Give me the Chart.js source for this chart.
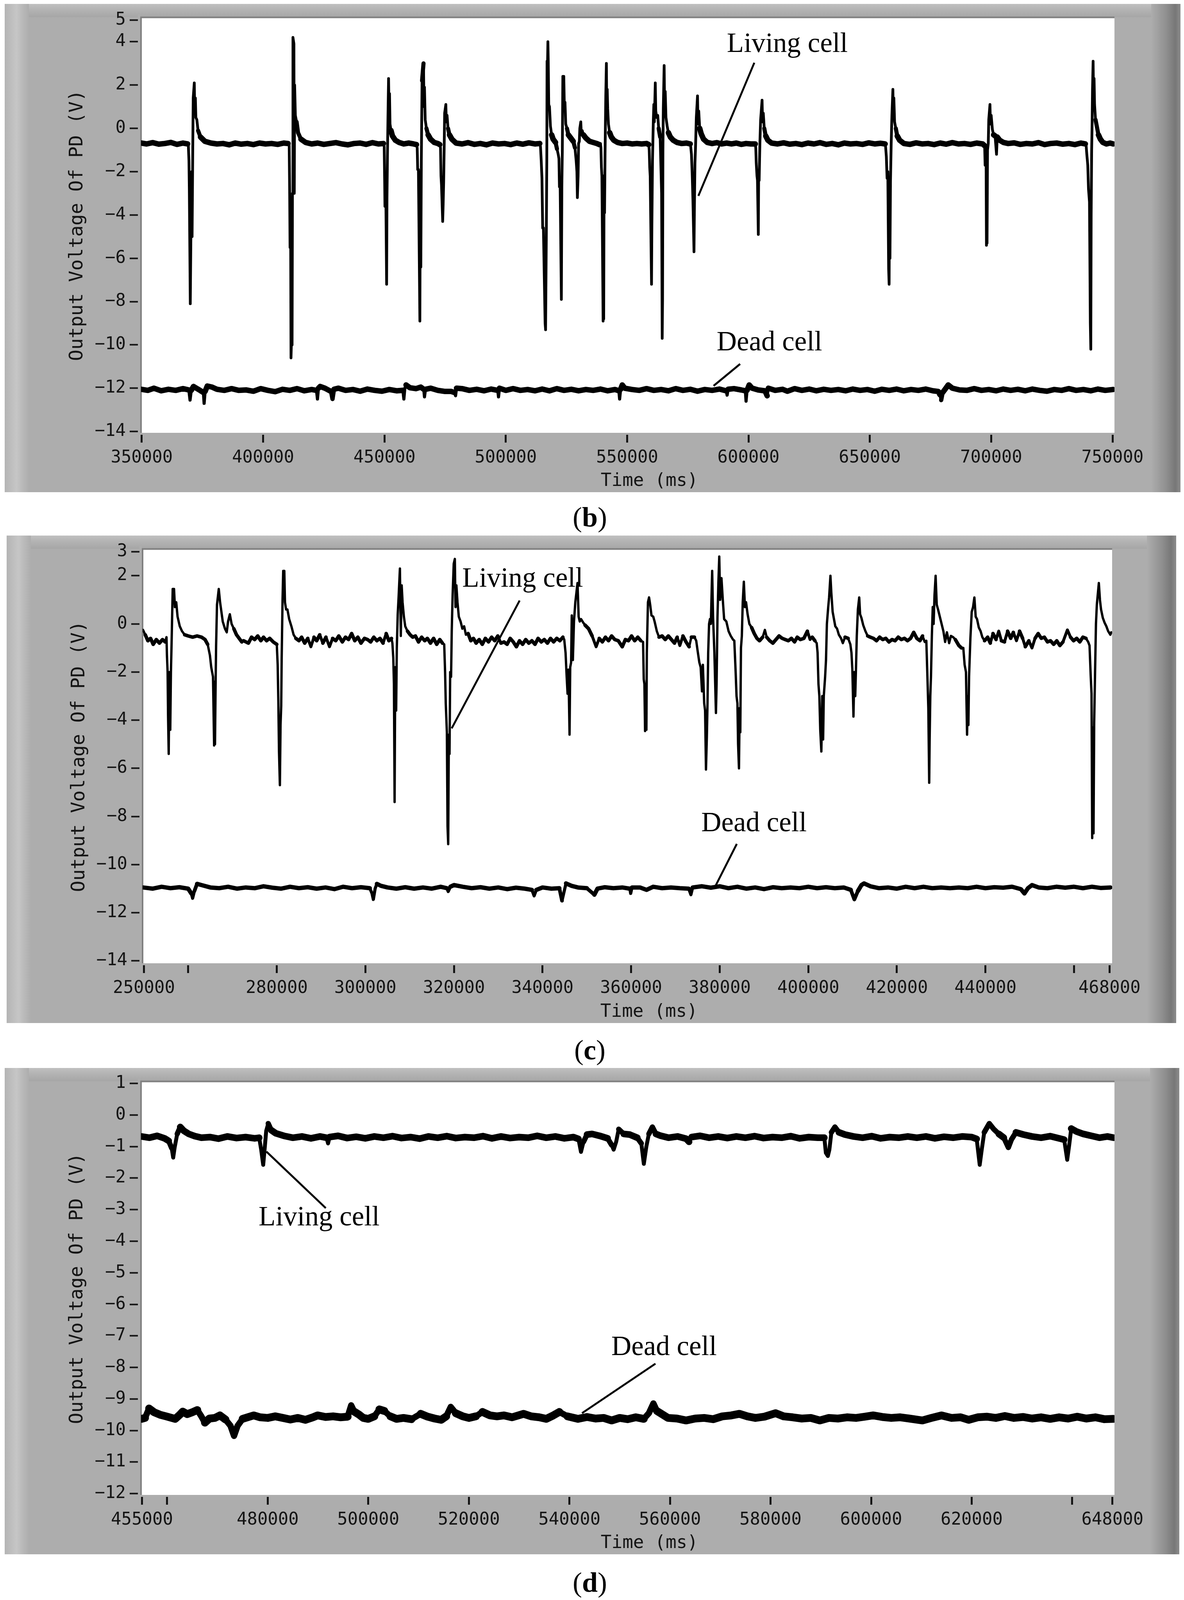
<!DOCTYPE html>
<html>
<head>
<meta charset="utf-8">
<title>Output voltage of PD, living and dead cell</title>
<script src="https://cdn.jsdelivr.net/npm/chart.js@4/dist/chart.umd.min.js"></script>
<style>
    html, body { margin: 0; padding: 0; background: #fff; }
    body { position: relative; width: 3031px; }
    canvas {
        position: absolute;
        background-color: #adadad;
        background-repeat: no-repeat;
        background-image:
            linear-gradient(to right, #b4b4b4 0, #c6c6c6 30px, #bcbcbc 42px, #adadad 62px),
            linear-gradient(to right, #adadad 0, #8e8e8e 40px, #777 62px, #8c8c8c 75px),
            linear-gradient(to bottom, #c0c0c0 0, #b4b4b4 14px, #a6a6a6 34px);
        background-size: 62px 100%, 75px 100%, 100% 34px;
        background-position: left top, right top, left top;
    }
    .caption {
        position: absolute;
        left: 1510px;
        transform: translateX(-50%);
        font: 72px/80px "Liberation Serif", serif;
        color: #000;
    }
</style>
</head>
<body>
<canvas id="panelB"></canvas>
<div class="caption" id="captionB">(<b>b</b>)</div>
<canvas id="panelC"></canvas>
<div class="caption" id="captionC">(<b>c</b>)</div>
<canvas id="panelD"></canvas>
<div class="caption" id="captionD">(<b>d</b>)</div>
<script>
// Values: [time in seconds, output voltage in V]
const livingB = [[349.8,-.68],[352,-.72],[354.5,-.66],[357,-.73],[359.5,-.7],[362,-.65],[364.5,-.74],[367,-.68],[368.9,-.72],
[369.2,-.8],[369.45,-1.5],[369.6,-2.8],[370,-8.1],[370.25,-5],[370.6,-2],[370.75,-5],[371,-1.3],[371.2,1.4],[371.65,2.1],[371.85,.8],[372.1,1.4],[372.3,.5],[372.7,.4],[373.2,-.1],[374.2,-.4],[376,-.6],[378.5,-.68],[381,-.72],
[383.5,-.7],[386,-.76],[388.5,-.68],[391,-.73],[393.5,-.7],[396,-.75],[398.5,-.68],[401,-.72],[403.5,-.7],[406,-.74],[408.5,-.68],[410.3,-.7],
[410.75,-.8],[410.95,-3],[411.1,-5.5],[411.3,-3.2],[411.5,-10.6],[411.65,-10],[411.8,-3.2],[411.95,-10],[412.1,-3],[412.2,-3],[412.3,4.2],[412.7,3.9],[412.85,-3],[413,2],[413.3,.6],[413.8,.3],[414.4,-.2],[415.6,-.5],[417.5,-.65],[420,-.72],
[422.5,-.68],[425,-.74],[427.5,-.7],[430,-.66],[432.5,-.72],[435,-.76],[437.5,-.7],[440,-.68],[442.5,-.74],[445,-.66],[447.5,-.72],[449.6,-.7],
[449.9,-.85],[450.1,-2.5],[450.2,-3.6],[450.5,-2.2],[450.9,-7.2],[451.05,-3.2],[451.25,-1.2],[451.45,.5],[451.7,2.3],[451.9,.8],[452.1,1.6],[452.3,.2],[452.7,-.1],[453.3,-.35],[454.5,-.55],[456,-.65],[458,-.72],[460,-.68],[462,-.72],[463.2,-.75],
[463.5,-.9],[463.7,-1.9],[464,-1.9],[464.6,-8.9],[464.8,-2],[465,-6.4],[465.2,-1.5],[465.5,2.2],[466.1,3],[466.3,1],[466.5,1.9],[466.8,.4],[467.3,0],[468,-.3],[469,-.5],[470.5,-.65],[472,-.7],[472.8,-.75],
[473.1,-.9],[473.3,-2.2],[473.5,-2.6],[474,-4.3],[474.2,-3.5],[474.4,-2.5],[474.6,-1],[474.8,.7],[475.3,1.1],[475.5,.3],[475.8,.6],[476.2,0],[476.8,-.3],[477.8,-.5],[479.5,-.68],
[482,-.72],[484.5,-.66],[487,-.74],[489.5,-.7],[492,-.76],[494.5,-.68],[497,-.72],[499.5,-.7],[502,-.75],[504.5,-.68],[507,-.73],[509.5,-.67],[512,-.72],[514,-.7],
[514.3,-.85],[514.6,-1.5],[514.9,-2.3],[515.2,-4.6],[515.5,-4.6],[516.2,-9],[516.4,-9.3],[516.7,-5],[516.9,-1.5],[517,3.1],[517.2,3],[517.35,4],[517.5,3.1],[517.7,1.1],[518,1],[518.4,.1],[518.9,-.3],[519.5,-.5],[520.5,-.65],[521.1,-.95],[521.6,-1.2],
[521.9,-1.4],[522.1,-2.7],[522.4,-2.7],[522.9,-7.9],[523.1,-2.7],[523.3,-1],[523.5,2.4],[523.9,2.4],[524.1,1.2],[524.4,1.2],[524.7,.2],[525.2,0],[525.8,-.3],[526.8,-.45],[527.8,-.6],[528.5,-.9],[529,-1.5],
[529.3,-2],[529.5,-3.2],[529.8,-2.2],[530,-.7],[530.3,-.6],[530.5,0],[530.9,.3],[531.1,-.2],[531.5,-.1],[532,-.3],[533,-.45],[534.5,-.6],[536,-.65],[537.5,-.7],[538.5,-.75],[539,-.7],
[539.2,-.9],[539.4,-1.8],[539.6,-2.2],[540.1,-8.9],[540.2,-2.2],[540.35,-8.8],[540.5,-2.2],[540.7,-3.9],[540.9,-1.2],[541.2,1.5],[541.45,3],[541.6,1],[541.8,1.8],[542,.9],[542.3,.2],[542.8,-.2],[543.5,-.4],[544.5,-.55],[546,-.65],[548,-.7],[550,-.68],[552,-.72],[554,-.7],[556,-.72],[558,-.7],[558.9,-.75],
[559.1,-1],[559.3,-1.8],[559.5,-2.2],[559.75,-4.5],[560.05,-7.2],[560.2,-4.5],[560.45,-1.5],[560.8,.4],[561,1.1],[561.2,.3],[561.6,2.1],[561.8,.8],[562.2,.5],[562.6,.6],[563,0],
[563.6,-.4],[563.85,-1.5],[564.2,-3],[564.45,-9.7],[564.6,-7.9],[564.75,-1],[564.9,.9],[565.25,2.9],[565.45,1],[565.7,1.7],[566,.5],[566.5,.1],[567,-.2],[567.8,-.4],[569,-.55],[570.5,-.65],[572.5,-.7],[574.5,-.68],[576,-.72],
[576.2,-.85],[576.5,-1.2],[576.8,-2.1],[577.1,-3.3],[577.55,-5.7],[577.7,-3.9],[577.95,-1.6],[578.2,-.8],[578.5,.5],[579,1.5],[579.2,.2],[579.5,.8],[579.9,0],[580.5,-.25],[581.5,-.5],[583,-.65],[585,-.7],[587,-.66],[589,-.72],[591,-.68],[593,-.72],[595,-.68],[597,-.74],[599,-.7],[601,-.72],[602.8,-.72],
[603,-.9],[603.2,-1.6],[603.5,-2.2],[603.7,-2.4],[604.05,-4.9],[604.2,-2],[604.4,-2.4],[604.7,-.7],[605,.4],[605.6,1.3],[605.8,.3],[606.1,.7],[606.5,0],[607.1,-.35],[608,-.55],[609.5,-.68],[612,-.72],
[614.5,-.67],[617,-.73],[619.5,-.7],[622,-.75],[624.5,-.68],[627,-.72],[629.5,-.66],[632,-.74],[634.5,-.7],[637,-.76],[639.5,-.68],[642,-.72],[644.5,-.7],[647,-.74],[649.5,-.67],[652,-.72],[654.5,-.69],[656.3,-.72],
[656.5,-.85],[656.8,-1.3],[657.1,-2.3],[657.4,-2],[657.75,-6.5],[657.95,-7.2],[658.1,-2.8],[658.3,-6],[658.5,-2.5],[658.8,-.7],[659.1,.6],[659.5,1.8],[659.7,.5],[659.9,1.4],[660.2,.3],[660.7,0],[661.3,-.35],[662.3,-.55],[664,-.7],
[666.5,-.74],[669,-.67],[671.5,-.72],[674,-.7],[676.5,-.75],[679,-.68],[681.5,-.73],[684,-.66],[686.5,-.72],[689,-.7],[691.5,-.74],[694,-.68],[696.5,-.72],
[697.3,-.8],[697.5,-1.7],[697.7,-.9],[697.9,-1.5],[698.05,-5.4],[698.2,-1.4],[698.3,-5.3],[698.5,-1],[698.8,-.7],[699,.4],[699.5,1.1],[699.7,.2],[700,.6],[700.5,-.05],[701,-.3],[701.6,-.35],[702.2,-1.2],[702.5,-.4],[703.5,-.55],[705,-.65],[707,-.7],
[709.5,-.67],[712,-.74],[714.5,-.7],[717,-.72],[719.5,-.66],[722,-.75],[724.5,-.7],[727,-.68],[729.5,-.73],[732,-.7],[734.5,-.75],[737,-.68],[738.8,-.72],
[739.1,-.75],[739.4,-1.2],[739.8,-1.7],[740.1,-2.8],[740.5,-3.4],[740.85,-9],[741.05,-10.2],[741.2,-4],[741.4,-1],[741.6,.3],[741.75,1.8],[742,3.1],[742.2,1.3],[742.4,2.3],[742.6,1.1],[743,.4],[743.6,.05],[744.2,-.3],[745,-.5],[746,-.65],[747.5,-.72],[749,-.68],[750.3,-.72]];

const deadB = [[349.8,-12.05],[352.5,-12.1],[355,-12],[358,-12.12],[361,-12.05],[364,-12.1],[367,-12.02],[369.4,-12.08],[369.9,-12.55],[370.4,-12.1],[371.3,-11.92],[372.5,-12],[374,-12.1],[375.4,-12.2],[375.7,-12.7],[376.1,-12.15],[377,-11.9],[379,-11.95],[381,-12.05],[384,-12.1],[387,-12.02],[390,-12.1],[393,-12.08],[396,-12.14],[399,-12.02],[402,-12.1],[405,-12.16],[408,-12.05],[411,-12.1],[414,-12.02],[417,-12.12],[420,-12.06],[422,-12.1],[422.4,-12.5],[422.8,-12],[423.5,-11.92],[425.5,-12],[428,-12.15],[428.6,-12.5],[429.2,-12.05],[431,-12],[434,-12.1],[437,-12.06],[440,-12.14],[443,-12.04],[446,-12.1],[449,-12.14],[452,-12.06],[455,-12.12],[457.6,-12.1],[458,-12.5],[458.4,-12],[458.9,-11.85],[460.5,-11.98],[463,-12.02],[465,-11.95],[466.2,-12.05],[466.5,-12.4],[466.9,-12.05],[469,-12],[472,-12.1],[475,-12.15],[477.5,-12.15],[478.9,-12.2],[479.3,-12.35],[479.7,-12],[482,-12.02],[485,-12.1],[488,-12.05],[491,-12.12],[494,-12.04],[496.7,-12.1],[497,-12.4],[497.4,-12],[500,-12.1],[503,-12.02],[506,-12.1],[509,-12.06],[512,-12.12],[515,-12.04],[518,-12.12],[521,-12.02],[524,-12.1],[527,-12.05],[530,-12.12],[533,-12.06],[536,-12.1],[539,-12.04],[542,-12.12],[545,-12.06],[546.6,-12.12],[546.9,-12.5],[547.3,-12.05],[548,-11.85],[549,-12],[552,-12.06],[555,-12.1],[558,-12.02],[561,-12.1],[564,-12.06],[567,-12.12],[570,-12.02],[573,-12.1],[576,-12.05],[579,-12.14],[582,-12.06],[585,-12.1],[588,-12.04],[590.8,-12.12],[591.2,-12.32],[591.6,-12.05],[594,-12.02],[597,-12.08],[598.7,-12.12],[599,-12.6],[599.4,-12.1],[600.3,-11.85],[601.5,-12],[604,-12.08],[606.8,-12.12],[607.7,-12.35],[608.2,-12],[611,-12.1],[614,-12.05],[616,-12.14],[619,-12.02],[622,-12.1],[625,-12.04],[628,-12.12],[631,-12.05],[634,-12.1],[637,-12.06],[640,-12.12],[643,-12.04],[646,-12.1],[649,-12.06],[652,-12.14],[655,-12.05],[658,-12.1],[661,-12.04],[664,-12.12],[667,-12.06],[670,-12.1],[673,-12.04],[676,-12.12],[678.2,-12.15],[678.9,-12.3],[679.4,-12.55],[680,-12.2],[681,-12.05],[682.3,-11.85],[684,-12],[687,-12.08],[690,-12.1],[693,-12.02],[696,-12.1],[699,-12.06],[702,-12.12],[705,-12.04],[708,-12.1],[711,-12.05],[714,-12.12],[717,-12.04],[720,-12.1],[723,-12.14],[726,-12.06],[729,-12.1],[732,-12.02],[735,-12.1],[738,-12.06],[741,-12.12],[744,-12.04],[747,-12.1],[750.2,-12.06]];

const livingC = [[249.8,-.25],[250.3,-.45],[250.9,-.7],[251.5,-.6],[252.1,-.85],[252.8,-.65],[253.5,-.8],[254.2,-.65],[254.8,-.75],
[255.1,-.55],[255.2,-1.3],[255.35,-2],[255.45,-3.8],[255.6,-5.4],[255.75,-2],[255.95,-4.4],[256.1,-2],[256.25,-.8],[256.5,1.45],[256.8,1.45],[257,.7],[257.3,.9],[257.6,.3],[258.1,-.1],[258.6,-.3],[259.2,-.45],[260,-.5],[261,-.55],[262,-.5],[263,-.55],[263.8,-.65],
[264.4,-.85],[264.9,-1.3],[265.2,-1.8],[265.6,-2.2],[265.85,-5.05],[266,-2.4],[266.05,-5],[266.2,-2.3],[266.3,-.9],[266.5,.8],[266.9,1.45],[267.2,.9],[267.5,.5],[267.8,.1],[268.3,-.2],[268.7,-.35],[269,.1],[269.4,.4],[269.8,0],[270.3,-.2],[270.9,-.45],[271.5,-.6],[272.1,-.75],
[272.5,-.7],[273.6,-.8],[274.3,-.55],[275,-.65],[275.7,-.5],[276.4,-.7],[277,-.55],[277.7,-.7],[278.4,-.6],[279.2,-.75],
[280,-.85],[280.2,-1.7],[280.35,-3.2],[280.5,-5.3],[280.7,-6.7],[280.85,-4.2],[281,-3.4],[281.1,-1.5],[281.3,1],[281.45,2.2],[281.7,2.2],[281.85,.9],[282.1,.6],[282.4,.6],[282.8,.2],[283.3,-.1],[283.8,-.45],[284.3,-.6],[285,-.7],[285.6,-.55],[286.3,-.8],[287,-.6],[287.7,-.95],[288.4,-.55],[289,-.7],[289.7,-.45],[290.4,-.8],[291.1,-.55],[291.9,-.95],[292.6,-.6],[293.3,-.7],[294,-.5],[294.8,-.75],[295.5,-.55],[296.2,-.65],[296.9,-.4],[297.6,-.7],[298.3,-.55],[299,-.8],[299.8,-.6],[300.5,-.65],[301.2,-.75],[301.9,-.55],[302.6,-.7],[303.3,-.6],[304,-.8],[304.7,-.4],[305.3,-.7],
[305.9,-.6],[306.1,-.8],[306.3,-1.4],[306.45,-2.5],[306.6,-7.4],[306.75,-1.8],[306.95,-3.6],[307.1,-1],[307.3,.4],[307.5,1.1],[307.8,2.3],[308,-.5],[308.2,1.6],[308.4,.9],[308.7,.3],[309,-.1],[309.5,-.3],[310.1,-.45],[310.7,-.55],[311.3,-.5],[312,-.75],[312.7,-.55],[313.4,-.7],[314,-.6],[314.7,-.8],[315.4,-.6],[316.1,-.85],[316.8,-.65],[317.4,-.8],
[317.8,-.85],[318,-2],[318.15,-3.3],[318.4,-4.5],[318.55,-8.4],[318.7,-9.15],[318.85,-4.6],[319,-5.4],[319.15,-2],[319.35,-2.2],[319.5,-.3],[319.7,1.2],[319.95,2.5],[320.2,2.7],[320.35,.7],[320.55,1.6],[320.8,.9],[321.1,.3],[321.5,.1],[321.9,-.2],[322.3,-.1],[322.7,-.45],[323.2,-.4],[323.8,-.7],[324.4,-.6],[325,-.8],[325.7,-.65],[326.4,-.85],[327.1,-.6],[327.8,-.75],[328.5,-.55],[329.2,-.7],[329.9,-.5],[330.6,-.8],[331.3,-.75],[332,-.85],[332.7,-.6],[333.4,-.75],[334.1,-.95],[334.8,-.7],[335.5,-.85],[336.2,-.65],[336.9,-.8],[337.6,-.7],[338.3,-.85],[339,-.6],[339.7,-.75],[340.4,-.65],[341.1,-.8],[341.8,-.6],[342.5,-.75],[343.2,-.6],[343.9,-.7],[344.6,-.55],
[344.9,-.65],[345.2,-1.2],[345.45,-2.2],[345.65,-2.9],[345.85,-1.9],[346.1,-4.6],[346.25,-1.8],[346.45,-1.6],[346.6,.35],[346.85,-1.5],[347.1,.1],[347.4,.9],[347.9,1.7],[348.15,.3],[348.4,.1],[348.7,.2],[349.2,.05],[349.6,-.05],
[350.4,-.2],[351.2,-.5],[352.1,-.95],[352.8,-.6],[353.5,-.75],[354.2,-.55],[354.9,-.7],[355.6,-.5],[356.3,-.65],[357.1,-.7],[358,-.95],[358.7,-.65],[359.4,-.7],[360.1,-.5],[360.8,-.7],[361.5,-.55],[362.2,-.7],
[362.7,-.75],[362.85,-2.3],[363,-2.5],[363.15,-4.45],[363.3,-2.6],[363.45,-4.4],[363.55,-1.2],[363.8,.9],[364.05,1.1],[364.3,.8],[364.6,.35],[365,.3],[365.3,.1],[365.8,-.3],[366.3,-.55],[367,-.5],[367.7,-.65],[368.4,-.5],[369.1,-.65],[369.8,-.8],[370.4,-.55],[371,-.9],[371.7,-.5],[372.4,-.75],[373.1,-.95],[373.6,-.55],[374.3,-.55],
[374.7,-.7],[375,-1.1],[375.4,-1.6],[375.7,-1.8],[376,-2.8],[376.2,-1.7],[376.5,-3.3],[376.7,-3.6],[376.9,-6.05],[377.1,-4.7],[377.25,-3.3],[377.4,-1.2],[377.6,0],[377.8,.2],[378,0],[378.3,2.2],[378.5,.3],[378.8,-1.2],[379.15,-3.7],[379.3,-2.5],[379.5,.3],[379.7,1.7],[379.9,2.8],[380.1,1],[380.4,1.9],[380.7,1],[381,.2],[381.5,.1],[382,-.3],[382.5,-.5],[383,-.65],
[383.3,-.7],[383.6,-2],[383.8,-3],[384,-3.3],[384.15,-5],[384.35,-6],[384.5,-3.5],[384.65,-4.5],[384.8,-1],[385,-.5],[385.2,.9],[385.45,1.75],[385.7,.7],[385.95,.9],[386.3,.4],[386.7,0],[387.2,-.15],[387.8,-.4],[388.4,-.6],[389,-.7],[389.7,-.55],[390.2,-.25],[390.6,-.55],[391.3,-.7],[392,-.8],[392.7,-.65],[393.4,-.5],[394.1,-.6],[394.8,-.65],[395.5,-.7],[396.2,-.6],[396.9,-.75],[397.5,-.55],[398.2,-.65],[399,-.6],[399.8,-.3],[400.4,-.65],[400.9,-.55],
[401.5,-.7],[401.9,-.8],[402.1,-1.2],[402.3,-2.5],[402.5,-3],[402.7,-4.4],[402.95,-5.3],[403.15,-3],[403.35,-4.8],[403.5,-3],[403.8,-2.2],[404,-1.5],[404.2,0],[404.5,.7],[404.7,1.1],[405,2],[405.2,1.3],[405.5,.5],[405.8,.2],[406.1,-.1],[406.5,-.2],[406.9,-.45],[407.4,-.6],[407.8,-.8],[408.3,-.55],[409,-.6],
[409.5,-.85],[409.75,-1.2],[409.95,-1.9],[410.2,-3.85],[410.4,-2],[410.6,-3],[410.75,-2],[410.95,-.5],[411.2,.6],[411.5,1.1],[411.7,.4],[412,.25],[412.4,-.05],[412.9,-.3],[413.4,-.5],[414,-.55],[414.7,-.6],[415.4,-.7],[416.1,-.55],[416.8,-.65],[417.5,-.6],[418.2,-.75],[418.9,-.65],[419.6,-.7],[420.3,-.55],[421,-.65],[421.7,-.6],[422.4,-.7],[423.1,-.6],[423.8,-.35],[424.5,-.6],[425.2,-.7],[425.8,-.5],[426.3,-.75],
[426.65,-.7],[426.85,-1.9],[427.1,-3.5],[427.3,-6.6],[427.4,-4.8],[427.55,-3],[427.7,-2.2],[427.9,-.5],[428.1,.7],[428.3,0],[428.5,1.2],[428.75,2],[429,.8],[429.3,.6],[429.7,.3],[430.1,0],[430.5,-.3],[430.9,-.75],[431.3,-.35],[431.8,-.8],[432.2,-.5],[432.7,-.55],[433.2,-.65],
[434,-.9],[434.6,-1],[435,-1],[435.3,-1.7],[435.6,-2],[435.85,-4.6],[436,-3],[436.15,-4.2],[436.3,-2.2],[436.6,-.6],[436.9,.5],[437.2,.7],[437.5,1.1],[437.8,.3],[438.1,.2],[438.5,-.15],[438.9,-.3],[439.3,-.55],[439.8,-.7],[440.5,-.55],[441.1,-.8],[441.7,-.4],[442.4,-.65],[443,-.3],[443.6,-.7],[444.3,-.75],[445,-.3],[445.7,-.6],[446.3,-.35],[447,-.7],[447.7,-.3],[448.4,-.6],[449,-.95],[449.8,-.7],[450.5,-1],[451.2,-.6],[451.9,-.4],[452.6,-.6],[453.3,-.55],[454,-.75],[454.7,-.7],[455.4,-.85],[456.1,-.7],[456.8,-.9],[457.5,-.75],[458.5,-.25],[459.2,-.55],[459.9,-.7],[460.6,-.6],[461.3,-.75],[462,-.55],[462.7,-.6],[463.2,-.75],
[463.5,-.9],[463.75,-2.1],[463.95,-2.9],[464.1,-8.9],[464.25,-4.3],[464.4,-8.7],[464.55,-4.1],[464.75,-2],[464.95,0],[465.15,.8],[465.6,1.7],[465.85,1],[466.1,.6],[466.5,.25],[466.9,.05],[467.3,-.1],[467.7,-.3],[468.2,-.45],[468.4,-.35]];

const deadC = [[249.8,-10.95],[252,-11],[254,-10.92],[256,-10.98],[258,-10.94],[260,-11],[260.7,-11.2],[261,-11.4],[261.4,-11.1],[262,-10.8],[263,-10.85],[265,-10.95],[267,-10.98],[269,-10.92],[271,-11],[273,-10.95],[275,-10.98],[277,-10.9],[279,-10.96],[281,-11],[283,-10.92],[285,-10.98],[287,-10.94],[289,-11],[291,-10.95],[293,-11.02],[295,-10.92],[297,-10.98],[299,-10.94],[301,-10.98],[301.5,-11.2],[301.8,-11.45],[302.2,-11],[302.6,-10.8],[303.5,-10.88],[305,-10.95],[307,-11],[309,-10.94],[311,-11],[313,-10.95],[315,-11],[317,-10.92],[318.4,-10.98],[318.7,-11.12],[319.2,-10.92],[320,-10.85],[322,-10.92],[324,-10.98],[326,-10.94],[328,-11],[330,-10.95],[332,-11.02],[334,-10.96],[336,-11],[337.6,-11.05],[338.1,-11.3],[338.6,-11.05],[340,-10.95],[342,-11],[343.8,-10.98],[344.4,-11.5],[344.9,-11.1],[345.3,-10.78],[346.5,-10.88],[348,-10.95],[350,-10.98],[351.7,-11.25],[352.4,-11],[354,-10.94],[356,-10.98],[358,-10.95],[359.7,-11],[359.9,-11.2],[360.2,-10.95],[362,-10.95],[363.5,-11.05],[365,-10.92],[367,-10.98],[369,-10.95],[371,-10.98],[373,-11],[373.5,-11.25],[373.9,-10.95],[376,-10.9],[378,-10.96],[380,-10.9],[382,-10.98],[384,-10.92],[386,-11],[388,-10.95],[390,-11.02],[392,-10.94],[394,-10.98],[396,-10.95],[398,-10.98],[400,-10.92],[402,-10.98],[404,-10.94],[406,-10.98],[408,-10.95],[409.6,-11.05],[410.4,-11.45],[411.2,-11.1],[412,-10.85],[412.6,-10.78],[414,-10.9],[416,-10.98],[418,-10.95],[420,-11],[422,-10.92],[424,-10.98],[426,-10.92],[428,-10.98],[430,-10.95],[432,-10.98],[434,-10.95],[436,-10.98],[438,-10.92],[440,-10.98],[442,-10.94],[444,-10.96],[446,-10.92],[448,-11.02],[448.8,-11.2],[449.6,-10.98],[450.5,-10.85],[452,-10.95],[454,-10.98],[456,-10.92],[458,-10.96],[460,-10.92],[462,-10.98],[464,-10.92],[466,-10.97],[468.2,-10.95]];

const livingD = [[454.9,-.68],[456.5,-.72],[458,-.66],[459.5,-.74],[460.3,-.82],[460.9,-1.05],[461.2,-1.35],[461.5,-1.02],[462,-.6],[462.6,-.38],[463.3,-.5],[464.3,-.6],[465.5,-.67],[466.8,-.72],[468.5,-.7],[470.2,-.75],[472,-.68],[473.8,-.73],[475.6,-.7],[477.4,-.74],[478.3,-.72],[478.7,-1.1],[479.1,-1.58],[479.4,-1.05],[479.7,-.5],[480.1,-.27],[480.7,-.48],[481.6,-.58],[483.2,-.66],[485,-.72],[486.8,-.68],[488.6,-.74],[490.4,-.68],[491.7,-.72],[492,-.9],[492.3,-.7],[494,-.66],[495.8,-.73],[497.6,-.69],[499.4,-.74],[501.2,-.68],[503,-.72],[504.8,-.67],[506.6,-.73],[508.4,-.7],[510.2,-.75],[512,-.68],[513.8,-.72],[515.6,-.67],[517.4,-.73],[519.2,-.7],[521,-.72],[522.8,-.67],[524.6,-.74],[526.4,-.68],[528.2,-.73],[530,-.7],[531.8,-.72],[533.6,-.66],[535.4,-.72],[537.2,-.68],[539,-.74],[540.8,-.7],[541.8,-.76],[542.3,-1.17],[542.8,-.85],[543.5,-.62],[544.5,-.6],[546,-.66],[547.6,-.74],[548.4,-.95],[548.8,-1.1],[549.3,-.85],[549.8,-.45],[550.8,-.6],[552,-.62],[553.5,-.72],[554.3,-.9],[554.8,-1.55],[555.3,-1],[555.8,-.6],[556.5,-.38],[557.2,-.6],[558,-.65],[559.7,-.72],[561.5,-.68],[563.2,-.75],[563.8,-.85],[564.3,-.7],[566,-.66],[567.8,-.72],[569.6,-.68],[571.4,-.73],[573.2,-.68],[575,-.72],[576.8,-.67],[578.6,-.73],[580.4,-.7],[582.2,-.72],[584,-.67],[585.8,-.74],[587.6,-.7],[589.4,-.72],[590.7,-.72],[591,-1.2],[591.4,-1.3],[591.7,-1.1],[592.1,-.55],[592.8,-.38],[593.6,-.55],[594.8,-.62],[596.5,-.68],[598.3,-.72],[600.1,-.67],[601.9,-.74],[603.7,-.7],[605.5,-.72],[607.3,-.68],[609.1,-.72],[610.9,-.68],[612.7,-.74],[614.5,-.69],[616.3,-.72],[618.1,-.68],[620,-.7],[621,-.76],[621.6,-1.58],[622,-1.1],[622.5,-.55],[623.5,-.27],[624.4,-.45],[625.4,-.6],[626.4,-.72],[627.3,-1.03],[627.9,-.78],[628.8,-.55],[630.3,-.62],[632,-.68],[633.8,-.72],[635.6,-.67],[637.4,-.74],[638.4,-.78],[639,-1.42],[639.4,-.95],[639.8,-.43],[640.8,-.52],[642.2,-.6],[643.8,-.66],[645.4,-.72],[647,-.68],[648.3,-.72]];

const deadD = [[454.9,-9.63],[455.6,-9.6],[456.4,-9.3],[457.4,-9.42],[458.6,-9.5],[459.8,-9.55],[461.6,-9.63],[462.5,-9.5],[463.1,-9.4],[464,-9.48],[465,-9.42],[466,-9.35],[466.8,-9.55],[467.5,-9.75],[468.4,-9.62],[469.5,-9.6],[470.5,-9.52],[471.6,-9.65],[472.6,-9.85],[473.3,-10.17],[474,-9.85],[475,-9.63],[476,-9.58],[477.2,-9.52],[478.5,-9.58],[480,-9.6],[481.5,-9.55],[483,-9.6],[484.5,-9.65],[486,-9.6],[487.5,-9.66],[489,-9.58],[489.9,-9.52],[491.5,-9.57],[493,-9.55],[494.5,-9.58],[495.9,-9.56],[496.6,-9.2],[497.2,-9.4],[498.2,-9.5],[499,-9.6],[500,-9.63],[501.2,-9.55],[502.2,-9.33],[503.2,-9.38],[504.4,-9.55],[505.6,-9.63],[507,-9.6],[508.6,-9.64],[510.4,-9.47],[511.8,-9.56],[513.2,-9.62],[514.5,-9.66],[515.5,-9.55],[516.4,-9.25],[517.4,-9.45],[518.8,-9.55],[520,-9.6],[521.4,-9.55],[522.7,-9.41],[524.2,-9.52],[525.6,-9.55],[527,-9.52],[528.6,-9.58],[530.9,-9.47],[532.4,-9.55],[534,-9.58],[535.4,-9.63],[536.8,-9.52],[538,-9.41],[539.6,-9.55],[541.7,-9.63],[543.5,-9.57],[545.2,-9.62],[546.8,-9.6],[548.4,-9.68],[550,-9.6],[551.6,-9.64],[553.2,-9.58],[554.8,-9.63],[555.8,-9.45],[556.7,-9.14],[557.4,-9.38],[558.3,-9.47],[559.6,-9.6],[561.4,-9.62],[563.2,-9.68],[565,-9.62],[566.8,-9.6],[568.6,-9.64],[570.4,-9.55],[572.2,-9.52],[573.8,-9.47],[575.4,-9.55],[577,-9.6],[578.8,-9.56],[581,-9.45],[582.6,-9.55],[584.4,-9.58],[586.2,-9.62],[588,-9.6],[589.8,-9.68],[591.6,-9.6],[593.4,-9.62],[595.2,-9.58],[597,-9.6],[598.8,-9.56],[600.4,-9.52],[602.2,-9.57],[604,-9.6],[605.8,-9.58],[607.6,-9.62],[610.2,-9.68],[612,-9.6],[614,-9.52],[616,-9.6],[617.8,-9.58],[619.4,-9.66],[621.2,-9.58],[623,-9.56],[624.8,-9.6],[626.6,-9.54],[628.4,-9.6],[630.2,-9.57],[632,-9.62],[633.8,-9.58],[635.6,-9.63],[637.4,-9.58],[639.2,-9.62],[641,-9.56],[642.8,-9.62],[644.6,-9.58],[646.4,-9.64],[648.2,-9.63]];

// Axis ticks; a tick missing from the label list is drawn without text
const xTicksB = [350000, 400000, 450000, 500000, 550000, 600000, 650000, 700000, 750000];
const xLabelsB = xTicksB;
const yTicksB = [5, 4, 2, 0, -2, -4, -6, -8, -10, -12, -14];
const xTicksC = [250000, 260000, 280000, 300000, 320000, 340000, 360000, 380000, 400000, 420000, 440000, 460000, 468000];
const xLabelsC = [250000, 280000, 300000, 320000, 340000, 360000, 380000, 400000, 420000, 440000, 468000];
const yTicksC = [3, 2, 0, -2, -4, -6, -8, -10, -12, -14];
const xTicksD = [455000, 460000, 480000, 500000, 520000, 540000, 560000, 580000, 600000, 620000, 640000, 648000];
const xLabelsD = [455000, 480000, 500000, 520000, 540000, 560000, 580000, 600000, 620000, 648000];
const yTicksD = [1, 0, -1, -2, -3, -4, -5, -6, -7, -8, -9, -10, -11, -12];

// Notes: text anchor, then leader line from -> to, in axis values (ms, V)
const notesB = [
    { text: 'Living cell', at: [591100, 3.53], from: [602400, 3.03], to: [579350, -3.12] },
    { text: 'Dead cell', at: [586900, -10.26], from: [596560, -10.88], to: [585620, -11.89] }
];
const notesC = [
    { text: 'Living cell', at: [321870, 1.55], from: [334830, .97], to: [319490, -4.34] },
    { text: 'Dead cell', at: [375840, -8.61], from: [383860, -9.14], to: [379100, -10.87] }
];
const notesD = [
    { text: 'Living cell', at: [478190, -3.5], from: [491550, -2.95], to: [479740, -1.16] },
    { text: 'Dead cell', at: [548330, -7.61], from: [557110, -7.88], to: [542500, -9.45] }
];

const monoFont = '"DejaVu Sans Mono", monospace';
const inkColor = '#141414';
const panelGray = '#adadad';

// The window can be shorter than the 4720 px page: squeeze the layout in height only
const fitY = Math.min(1, window.innerHeight / 4720);

// White plot area, top edge, detached ticks and the notes
const panelPlugin = {
    id: 'panel',
    beforeDraw(chart) {
        const { ctx, chartArea: a } = chart;
        ctx.save();
        ctx.fillStyle = '#fff';
        ctx.fillRect(a.left, a.top, a.right - a.left, a.bottom - a.top);
        ctx.fillStyle = '#808080';
        ctx.fillRect(a.left - 2, a.top - 4, a.right - a.left + 2, 4);
        ctx.restore();
    },
    afterDraw(chart, args, opts) {
        const { ctx, chartArea: a, scales } = chart;
        ctx.save();
        ctx.fillStyle = panelGray;
        ctx.fillRect(a.left - 8, a.top - 10, 6, a.bottom - a.top + 30);
        ctx.fillRect(a.left - 2, a.bottom, a.right - a.left + 12, 5);
        ctx.strokeStyle = '#000';
        ctx.fillStyle = '#000';
        ctx.lineWidth = 5;
        ctx.font = '71px "Liberation Serif", serif';
        opts.notes.forEach(note => {
            ctx.fillText(note.text, scales.x.getPixelForValue(note.at[0]), scales.y.getPixelForValue(note.at[1]));
            ctx.beginPath();
            ctx.moveTo(scales.x.getPixelForValue(note.from[0]), scales.y.getPixelForValue(note.from[1]));
            ctx.lineTo(scales.x.getPixelForValue(note.to[0]), scales.y.getPixelForValue(note.to[1]));
            ctx.stroke();
        });
        ctx.restore();
    }
};

function toPoints(rows) {
    return rows.map(row => ({ x: row[0] * 1000, y: row[1] }));
}

// Noise band is wide, spike detail and fast edges are thin
function traceDataset(label, rows, band, thin, steep) {
    return {
        label: label,
        data: toPoints(rows),
        borderColor: '#000',
        borderWidth: band,
        borderCapStyle: 'round',
        borderJoinStyle: 'round',
        pointRadius: 0,
        tension: 0,
        segment: {
            borderWidth: ctx => {
                const step = Math.abs(ctx.p1.parsed.y - ctx.p0.parsed.y);
                const span = ctx.p1.parsed.x - ctx.p0.parsed.x;
                if (step > steep || span < 600) return thin;
                return step > steep / 3 ? (thin + band) / 2 : band;
            }
        }
    };
}

function makePanel(id, captionId, cfg) {
    const canvas = document.getElementById(id);
    canvas.width = cfg.width;
    canvas.height = Math.round(cfg.height * fitY);
    canvas.style.left = cfg.left + 'px';
    canvas.style.top = Math.round(cfg.top * fitY) + 'px';
    document.getElementById(captionId).style.top = Math.round(cfg.captionY * fitY - 40) + 'px';

    new Chart(canvas, {
        type: 'line',
        data: { datasets: cfg.datasets },
        plugins: [panelPlugin],
        options: {
            responsive: false,
            devicePixelRatio: 1,
            animation: false,
            layout: { padding: { top: Math.round(cfg.padTop * fitY), right: cfg.padRight, left: 0, bottom: 0 } },
            plugins: {
                legend: { display: false },
                tooltip: { enabled: false },
                panel: { notes: cfg.notes }
            },
            scales: {
                x: {
                    type: 'linear',
                    min: cfg.xMin,
                    max: cfg.xMax,
                    afterFit: scale => { scale.height = Math.round(cfg.axisHeight * fitY); },
                    afterBuildTicks: scale => { scale.ticks = cfg.xTicks.map(v => ({ value: v })); },
                    grid: { drawOnChartArea: false, tickColor: inkColor, tickWidth: 5, tickLength: 25 },
                    border: { display: false },
                    ticks: {
                        autoSkip: false,
                        maxRotation: 0,
                        padding: 13,
                        color: inkColor,
                        font: { family: monoFont, size: 44 },
                        callback: v => cfg.xLabels.includes(v) ? String(v) : ''
                    },
                    title: {
                        display: true,
                        text: '    Time (ms)',
                        color: inkColor,
                        font: { family: monoFont, size: 46 },
                        padding: { top: 0, bottom: 0 }
                    }
                },
                y: {
                    min: cfg.yMin,
                    max: cfg.yMax,
                    afterFit: scale => { scale.width = cfg.axisWidth; },
                    afterBuildTicks: scale => { scale.ticks = cfg.yTicks.map(v => ({ value: v })); },
                    grid: { drawOnChartArea: false, tickColor: inkColor, tickWidth: 4, tickLength: 29 },
                    border: { display: true, color: '#808080', width: 4 },
                    ticks: {
                        autoSkip: false,
                        padding: 10,
                        color: inkColor,
                        font: { family: monoFont, size: 44 },
                        callback: v => String(v).replace('-', '\u2212')
                    },
                    title: {
                        display: true,
                        text: 'Output Voltage Of PD (V)',
                        color: inkColor,
                        font: { family: monoFont, size: 48 },
                        padding: { top: 158, bottom: 0 }
                    }
                }
            }
        }
    });
}

document.addEventListener('DOMContentLoaded', () => {
    document.body.style.height = Math.round(4720 * fitY) + 'px';

    makePanel('panelB', 'captionB', {
        left: 12, top: 12, width: 3010, height: 1441, captionY: 1526,
        datasets: [traceDataset('Living cell', livingB, 14, 7, 0.8), traceDataset('Dead cell', deadB, 14, 8, 0.8)],
        notes: notesB, xTicks: xTicksB, xLabels: xLabelsB, yTicks: yTicksB,
        xMin: 349700, xMax: 750800, yMin: -14.06, yMax: 5.09,
        padTop: 42, padRight: 169, axisWidth: 349, axisHeight: 175
    });
    makePanel('panelC', 'captionC', {
        left: 17, top: 1580, width: 2994, height: 1438, captionY: 3097,
        datasets: [traceDataset('Living cell', livingC, 9, 6, 0.9), traceDataset('Dead cell', deadC, 11, 8, 0.8)],
        notes: notesC, xTicks: xTicksC, xLabels: xLabelsC, yTicks: yTicksC,
        xMin: 249700, xMax: 468600, yMin: -14.1, yMax: 3.08,
        padTop: 42, padRight: 164, axisWidth: 348, axisHeight: 176
    });
    makePanel('panelD', 'captionD', {
        left: 12, top: 3151, width: 3007, height: 1435, captionY: 4668,
        datasets: [traceDataset('Living cell', livingD, 17, 10, 0.4), traceDataset('Dead cell', deadD, 20, 12, 0.4)],
        notes: notesD, xTicks: xTicksD, xLabels: xLabelsD, yTicks: yTicksD,
        xMin: 454800, xMax: 648400, yMin: -12.04, yMax: 1.04,
        padTop: 38, padRight: 166, axisWidth: 349, axisHeight: 175
    });
});
</script>
</body>
</html>
